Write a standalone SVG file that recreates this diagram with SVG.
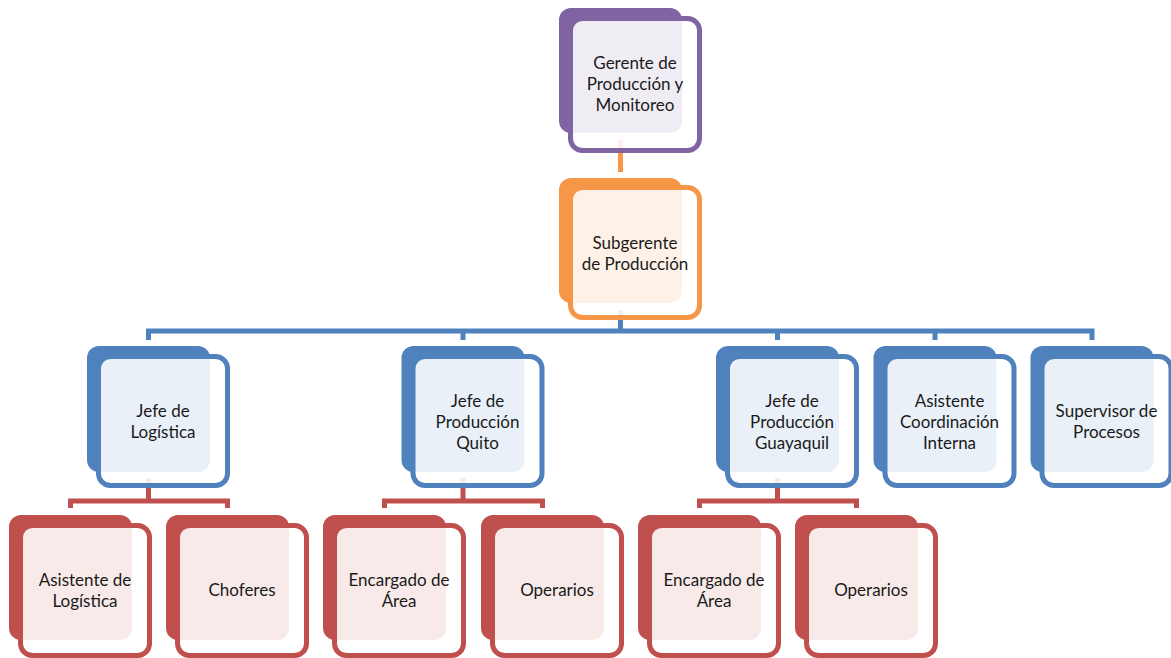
<svg xmlns="http://www.w3.org/2000/svg" width="1171" height="658" viewBox="0 0 1171 658">
  <defs>
    <style>
      .back { stroke: none; }
      .front { fill: #ffffff; fill-opacity: 0.88; stroke-width: 5; }
      .lbl { font-family: Lato, "Open Sans", "Liberation Sans", sans-serif; font-size: 17px; fill: #1a1a1a; text-anchor: middle; }
      .con { fill: none; stroke-width: 5; stroke-linejoin: miter; stroke-linecap: butt; }
      .purple .back { fill: #8064A2; } .purple .front { stroke: #8064A2; }
      .orange .back { fill: #F79646; } .orange .front { stroke: #F79646; }
      .blue .back { fill: #4F81BD; } .blue .front { stroke: #4F81BD; }
      .red .back { fill: #C0504D; } .red .front { stroke: #C0504D; }
    </style>
  </defs>
  <rect width="1171" height="658" fill="#ffffff"/>

  <!-- connectors -->
  <g id="connectors">
    <path class="con" stroke="#F79646" d="M620.5 140 V172"/>
    <path class="con" stroke="#4F81BD" d="M620.5 310 V331 M148.5 340 V331 H1092 V340 M463 331 V340 M777.5 331 V340 M935 331 V340"/>
    <path class="con" stroke="#C0504D" d="M148.5 478 V501 M70.5 508 V501 H227.5 V508"/>
    <path class="con" stroke="#C0504D" d="M463 478 V501 M384.5 508 V501 H542.5 V508"/>
    <path class="con" stroke="#C0504D" d="M777.5 478 V501 M699.5 508 V501 H856.5 V508"/>
  </g>

  <!-- level 1 -->
  <g id="gerente" class="purple">
    <rect class="back" x="559" y="8" width="123" height="125" rx="12"/>
    <rect class="front" x="570.5" y="18.5" width="129" height="132" rx="12"/>
    <text class="lbl" x="635" y="69">Gerente de</text>
    <text class="lbl" x="635" y="90">Producción y</text>
    <text class="lbl" x="635" y="111">Monitoreo</text>
  </g>

  <g id="subgerente" class="orange">
    <rect class="back" x="559" y="178" width="123" height="125" rx="12"/>
    <rect class="front" x="570.5" y="187.5" width="129" height="130" rx="12"/>
    <text class="lbl" x="635" y="249">Subgerente</text>
    <text class="lbl" x="635" y="270">de Producción</text>
  </g>

  <!-- level 2 -->
  <g id="jefe-logistica" class="blue">
    <rect class="back" x="87" y="346" width="123" height="126" rx="12"/>
    <rect class="front" x="98.5" y="356.5" width="129" height="129" rx="12"/>
    <text class="lbl" x="163" y="417">Jefe de</text>
    <text class="lbl" x="163" y="438">Logística</text>
  </g>

  <g id="jefe-quito" class="blue">
    <rect class="back" x="401.5" y="346" width="123" height="126" rx="12"/>
    <rect class="front" x="413" y="356.5" width="129" height="129" rx="12"/>
    <text class="lbl" x="477.5" y="407">Jefe de</text>
    <text class="lbl" x="477.5" y="428">Producción</text>
    <text class="lbl" x="477.5" y="449">Quito</text>
  </g>

  <g id="jefe-guayaquil" class="blue">
    <rect class="back" x="716" y="346" width="123" height="126" rx="12"/>
    <rect class="front" x="727.5" y="356.5" width="129" height="129" rx="12"/>
    <text class="lbl" x="792" y="407">Jefe de</text>
    <text class="lbl" x="792" y="428">Producción</text>
    <text class="lbl" x="792" y="449">Guayaquil</text>
  </g>

  <g id="asistente-coordinacion" class="blue">
    <rect class="back" x="873.5" y="346" width="123" height="126" rx="12"/>
    <rect class="front" x="885" y="356.5" width="129" height="129" rx="12"/>
    <text class="lbl" x="949.5" y="407">Asistente</text>
    <text class="lbl" x="949.5" y="428">Coordinación</text>
    <text class="lbl" x="949.5" y="449">Interna</text>
  </g>

  <g id="supervisor-procesos" class="blue">
    <rect class="back" x="1030.5" y="346" width="123" height="126" rx="12"/>
    <rect class="front" x="1042" y="356.5" width="129" height="129" rx="12"/>
    <text class="lbl" x="1106.5" y="417">Supervisor de</text>
    <text class="lbl" x="1106.5" y="438">Procesos</text>
  </g>

  <!-- level 3 -->
  <g id="asistente-logistica" class="red">
    <rect class="back" x="9" y="515" width="123" height="125" rx="12"/>
    <rect class="front" x="20.5" y="525.5" width="129" height="130" rx="12"/>
    <text class="lbl" x="85" y="586">Asistente de</text>
    <text class="lbl" x="85" y="607">Logística</text>
  </g>

  <g id="choferes" class="red">
    <rect class="back" x="166" y="515" width="123" height="125" rx="12"/>
    <rect class="front" x="177.5" y="525.5" width="129" height="130" rx="12"/>
    <text class="lbl" x="242" y="596">Choferes</text>
  </g>

  <g id="encargado-quito" class="red">
    <rect class="back" x="323" y="515" width="123" height="125" rx="12"/>
    <rect class="front" x="334.5" y="525.5" width="129" height="130" rx="12"/>
    <text class="lbl" x="399" y="586">Encargado de</text>
    <text class="lbl" x="399" y="607">Área</text>
  </g>

  <g id="operarios-quito" class="red">
    <rect class="back" x="481" y="515" width="123" height="125" rx="12"/>
    <rect class="front" x="492.5" y="525.5" width="129" height="130" rx="12"/>
    <text class="lbl" x="557" y="596">Operarios</text>
  </g>

  <g id="encargado-guayaquil" class="red">
    <rect class="back" x="638" y="515" width="123" height="125" rx="12"/>
    <rect class="front" x="649.5" y="525.5" width="129" height="130" rx="12"/>
    <text class="lbl" x="714" y="586">Encargado de</text>
    <text class="lbl" x="714" y="607">Área</text>
  </g>

  <g id="operarios-guayaquil" class="red">
    <rect class="back" x="795" y="515" width="123" height="125" rx="12"/>
    <rect class="front" x="806.5" y="525.5" width="129" height="130" rx="12"/>
    <text class="lbl" x="871" y="596">Operarios</text>
  </g>
</svg>
